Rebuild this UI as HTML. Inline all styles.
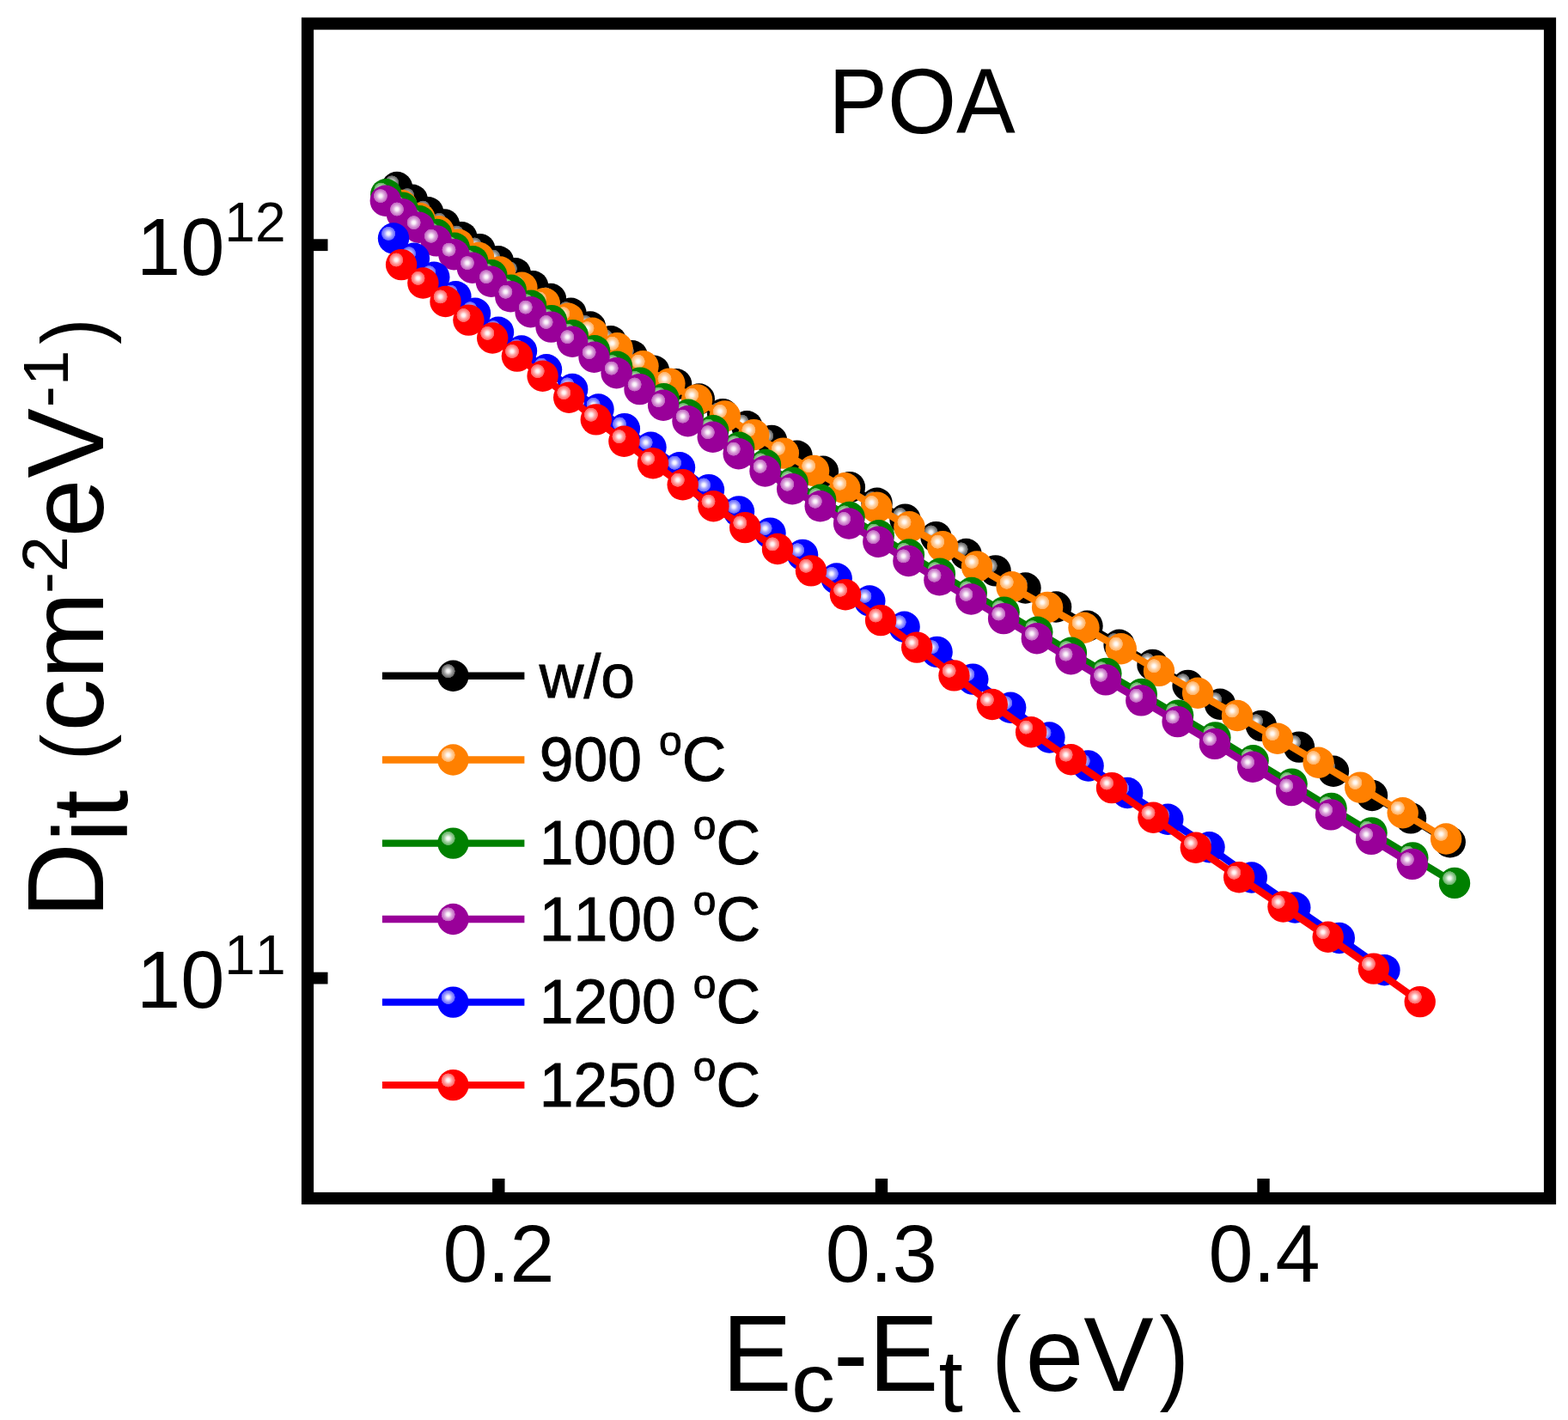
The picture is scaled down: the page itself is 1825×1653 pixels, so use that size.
<!DOCTYPE html>
<html><head><meta charset="utf-8"><title>Dit vs Ec-Et (POA)</title>
<style>
html,body{margin:0;padding:0;background:#fff;overflow:hidden;}
svg{display:block;}
text{font-family:"Liberation Sans", Arial, Helvetica, sans-serif;fill:#000;font-kerning:none;}
</style></head>
<body>
<svg width="1825" height="1653" viewBox="0 0 1825 1653">
<rect width="1825" height="1653" fill="#fff"/>
<defs>
<radialGradient id="h0"><stop offset="0" stop-color="#fff" stop-opacity="1"/><stop offset="0.25" stop-color="#fff" stop-opacity="0.92"/><stop offset="0.5" stop-color="#fff" stop-opacity="0.68"/><stop offset="0.85" stop-color="#fff" stop-opacity="0.45"/><stop offset="0.97" stop-color="#fff" stop-opacity="0.38"/><stop offset="1" stop-color="#fff" stop-opacity="0"/></radialGradient>
<radialGradient id="h1"><stop offset="0" stop-color="#fff" stop-opacity="1"/><stop offset="0.25" stop-color="#fff" stop-opacity="0.92"/><stop offset="0.5" stop-color="#fff" stop-opacity="0.68"/><stop offset="0.85" stop-color="#fff" stop-opacity="0.45"/><stop offset="0.97" stop-color="#fff" stop-opacity="0.38"/><stop offset="1" stop-color="#fff" stop-opacity="0"/></radialGradient>
<radialGradient id="h2"><stop offset="0" stop-color="#fff" stop-opacity="1"/><stop offset="0.25" stop-color="#fff" stop-opacity="0.92"/><stop offset="0.5" stop-color="#fff" stop-opacity="0.68"/><stop offset="0.85" stop-color="#fff" stop-opacity="0.45"/><stop offset="0.97" stop-color="#fff" stop-opacity="0.38"/><stop offset="1" stop-color="#fff" stop-opacity="0"/></radialGradient>
<radialGradient id="h3"><stop offset="0" stop-color="#fff" stop-opacity="1"/><stop offset="0.25" stop-color="#fff" stop-opacity="0.92"/><stop offset="0.5" stop-color="#fff" stop-opacity="0.68"/><stop offset="0.85" stop-color="#fff" stop-opacity="0.45"/><stop offset="0.97" stop-color="#fff" stop-opacity="0.38"/><stop offset="1" stop-color="#fff" stop-opacity="0"/></radialGradient>
<radialGradient id="h4"><stop offset="0" stop-color="#fff" stop-opacity="1"/><stop offset="0.25" stop-color="#fff" stop-opacity="0.92"/><stop offset="0.5" stop-color="#fff" stop-opacity="0.68"/><stop offset="0.85" stop-color="#fff" stop-opacity="0.45"/><stop offset="0.97" stop-color="#fff" stop-opacity="0.38"/><stop offset="1" stop-color="#fff" stop-opacity="0"/></radialGradient>
<radialGradient id="h5"><stop offset="0" stop-color="#fff" stop-opacity="1"/><stop offset="0.25" stop-color="#fff" stop-opacity="0.92"/><stop offset="0.5" stop-color="#fff" stop-opacity="0.68"/><stop offset="0.85" stop-color="#fff" stop-opacity="0.45"/><stop offset="0.97" stop-color="#fff" stop-opacity="0.38"/><stop offset="1" stop-color="#fff" stop-opacity="0"/></radialGradient>
</defs>
<path d="M462.0,218.0 L479.9,232.7 L498.2,247.2 L517.0,261.4 L537.4,276.2 L558.4,290.1 L580.0,304.2 L599.8,318.2 L620.2,333.2 L641.0,348.0 L664.5,364.7 L687.0,380.5 L711.0,397.2 L735.7,414.2 L761.1,431.7 L787.1,447.3 L813.8,464.5 L841.2,482.1 L869.3,496.2 L898.1,512.9 L927.6,530.7 L957.9,548.8 L988.9,567.1 L1020.6,585.7 L1053.5,604.6 L1089.5,625.1 L1124.5,645.0 L1158.6,664.4 L1193.5,684.5 L1229.1,706.5 L1265.5,728.7 L1302.6,750.7 L1341.5,773.9 L1382.6,797.9 L1420.0,819.7 L1468.0,844.9 L1512.0,869.6 L1552.0,897.8 L1597.0,926.0 L1642.0,952.4 L1687.7,980.3" fill="none" stroke="#000000" stroke-width="8.4" stroke-linejoin="round"/>
<circle cx="462.0" cy="218.0" r="18.2" fill="#000000"/><circle cx="456.1" cy="212.4" r="8.2" fill="url(#h0)"/>
<circle cx="479.9" cy="232.7" r="18.2" fill="#000000"/><circle cx="474.0" cy="227.1" r="8.2" fill="url(#h0)"/>
<circle cx="498.2" cy="247.2" r="18.2" fill="#000000"/><circle cx="492.3" cy="241.6" r="8.2" fill="url(#h0)"/>
<circle cx="517.0" cy="261.4" r="18.2" fill="#000000"/><circle cx="511.1" cy="255.8" r="8.2" fill="url(#h0)"/>
<circle cx="537.4" cy="276.2" r="18.2" fill="#000000"/><circle cx="531.5" cy="270.6" r="8.2" fill="url(#h0)"/>
<circle cx="558.4" cy="290.1" r="18.2" fill="#000000"/><circle cx="552.5" cy="284.5" r="8.2" fill="url(#h0)"/>
<circle cx="580.0" cy="304.2" r="18.2" fill="#000000"/><circle cx="574.1" cy="298.6" r="8.2" fill="url(#h0)"/>
<circle cx="599.8" cy="318.2" r="18.2" fill="#000000"/><circle cx="593.9" cy="312.6" r="8.2" fill="url(#h0)"/>
<circle cx="620.2" cy="333.2" r="18.2" fill="#000000"/><circle cx="614.3" cy="327.6" r="8.2" fill="url(#h0)"/>
<circle cx="641.0" cy="348.0" r="18.2" fill="#000000"/><circle cx="635.1" cy="342.4" r="8.2" fill="url(#h0)"/>
<circle cx="664.5" cy="364.7" r="18.2" fill="#000000"/><circle cx="658.6" cy="359.1" r="8.2" fill="url(#h0)"/>
<circle cx="687.0" cy="380.5" r="18.2" fill="#000000"/><circle cx="681.1" cy="374.9" r="8.2" fill="url(#h0)"/>
<circle cx="711.0" cy="397.2" r="18.2" fill="#000000"/><circle cx="705.1" cy="391.6" r="8.2" fill="url(#h0)"/>
<circle cx="735.7" cy="414.2" r="18.2" fill="#000000"/><circle cx="729.8" cy="408.6" r="8.2" fill="url(#h0)"/>
<circle cx="761.1" cy="431.7" r="18.2" fill="#000000"/><circle cx="755.2" cy="426.1" r="8.2" fill="url(#h0)"/>
<circle cx="787.1" cy="447.3" r="18.2" fill="#000000"/><circle cx="781.2" cy="441.7" r="8.2" fill="url(#h0)"/>
<circle cx="813.8" cy="464.5" r="18.2" fill="#000000"/><circle cx="807.9" cy="458.9" r="8.2" fill="url(#h0)"/>
<circle cx="841.2" cy="482.1" r="18.2" fill="#000000"/><circle cx="835.3" cy="476.5" r="8.2" fill="url(#h0)"/>
<circle cx="869.3" cy="496.2" r="18.2" fill="#000000"/><circle cx="863.4" cy="490.6" r="8.2" fill="url(#h0)"/>
<circle cx="898.1" cy="512.9" r="18.2" fill="#000000"/><circle cx="892.2" cy="507.3" r="8.2" fill="url(#h0)"/>
<circle cx="927.6" cy="530.7" r="18.2" fill="#000000"/><circle cx="921.7" cy="525.1" r="8.2" fill="url(#h0)"/>
<circle cx="957.9" cy="548.8" r="18.2" fill="#000000"/><circle cx="952.0" cy="543.2" r="8.2" fill="url(#h0)"/>
<circle cx="988.9" cy="567.1" r="18.2" fill="#000000"/><circle cx="983.0" cy="561.5" r="8.2" fill="url(#h0)"/>
<circle cx="1020.6" cy="585.7" r="18.2" fill="#000000"/><circle cx="1014.7" cy="580.1" r="8.2" fill="url(#h0)"/>
<circle cx="1053.5" cy="604.6" r="18.2" fill="#000000"/><circle cx="1047.6" cy="599.0" r="8.2" fill="url(#h0)"/>
<circle cx="1089.5" cy="625.1" r="18.2" fill="#000000"/><circle cx="1083.6" cy="619.5" r="8.2" fill="url(#h0)"/>
<circle cx="1124.5" cy="645.0" r="18.2" fill="#000000"/><circle cx="1118.6" cy="639.4" r="8.2" fill="url(#h0)"/>
<circle cx="1158.6" cy="664.4" r="18.2" fill="#000000"/><circle cx="1152.7" cy="658.8" r="8.2" fill="url(#h0)"/>
<circle cx="1193.5" cy="684.5" r="18.2" fill="#000000"/><circle cx="1187.6" cy="678.9" r="8.2" fill="url(#h0)"/>
<circle cx="1229.1" cy="706.5" r="18.2" fill="#000000"/><circle cx="1223.2" cy="700.9" r="8.2" fill="url(#h0)"/>
<circle cx="1265.5" cy="728.7" r="18.2" fill="#000000"/><circle cx="1259.6" cy="723.1" r="8.2" fill="url(#h0)"/>
<circle cx="1302.6" cy="750.7" r="18.2" fill="#000000"/><circle cx="1296.7" cy="745.1" r="8.2" fill="url(#h0)"/>
<circle cx="1341.5" cy="773.9" r="18.2" fill="#000000"/><circle cx="1335.6" cy="768.3" r="8.2" fill="url(#h0)"/>
<circle cx="1382.6" cy="797.9" r="18.2" fill="#000000"/><circle cx="1376.7" cy="792.3" r="8.2" fill="url(#h0)"/>
<circle cx="1420.0" cy="819.7" r="18.2" fill="#000000"/><circle cx="1414.1" cy="814.1" r="8.2" fill="url(#h0)"/>
<circle cx="1468.0" cy="844.9" r="18.2" fill="#000000"/><circle cx="1462.1" cy="839.3" r="8.2" fill="url(#h0)"/>
<circle cx="1512.0" cy="869.6" r="18.2" fill="#000000"/><circle cx="1506.1" cy="864.0" r="8.2" fill="url(#h0)"/>
<circle cx="1552.0" cy="897.8" r="18.2" fill="#000000"/><circle cx="1546.1" cy="892.2" r="8.2" fill="url(#h0)"/>
<circle cx="1597.0" cy="926.0" r="18.2" fill="#000000"/><circle cx="1591.1" cy="920.4" r="8.2" fill="url(#h0)"/>
<circle cx="1642.0" cy="952.4" r="18.2" fill="#000000"/><circle cx="1636.1" cy="946.8" r="8.2" fill="url(#h0)"/>
<circle cx="1687.7" cy="980.3" r="18.2" fill="#000000"/><circle cx="1681.8" cy="974.7" r="8.2" fill="url(#h0)"/>
<path d="M467.3,239.0 L488.4,254.0 L510.5,269.3 L533.4,284.7 L557.2,300.0 L581.8,316.5 L607.4,334.8 L633.8,353.1 L661.2,370.7 L689.4,387.7 L718.5,405.3 L748.5,426.3 L779.4,446.6 L811.1,465.4 L843.8,484.4 L877.3,506.1 L911.8,527.6 L947.1,547.9 L983.3,568.3 L1020.4,590.6 L1058.4,613.3 L1097.2,636.2 L1137.0,659.5 L1177.6,683.3 L1219.1,706.9 L1261.5,730.7 L1304.8,755.2 L1349.0,780.9 L1394.1,806.8 L1440.0,833.0 L1486.9,859.7 L1534.6,887.7 L1583.2,916.6 L1632.7,946.2 L1683.1,976.5" fill="none" stroke="#ff8000" stroke-width="8.4" stroke-linejoin="round"/>
<circle cx="467.3" cy="239.0" r="18.2" fill="#ff8000"/><circle cx="461.4" cy="233.4" r="8.2" fill="url(#h1)"/>
<circle cx="488.4" cy="254.0" r="18.2" fill="#ff8000"/><circle cx="482.5" cy="248.4" r="8.2" fill="url(#h1)"/>
<circle cx="510.5" cy="269.3" r="18.2" fill="#ff8000"/><circle cx="504.6" cy="263.7" r="8.2" fill="url(#h1)"/>
<circle cx="533.4" cy="284.7" r="18.2" fill="#ff8000"/><circle cx="527.5" cy="279.1" r="8.2" fill="url(#h1)"/>
<circle cx="557.2" cy="300.0" r="18.2" fill="#ff8000"/><circle cx="551.3" cy="294.4" r="8.2" fill="url(#h1)"/>
<circle cx="581.8" cy="316.5" r="18.2" fill="#ff8000"/><circle cx="575.9" cy="310.9" r="8.2" fill="url(#h1)"/>
<circle cx="607.4" cy="334.8" r="18.2" fill="#ff8000"/><circle cx="601.5" cy="329.2" r="8.2" fill="url(#h1)"/>
<circle cx="633.8" cy="353.1" r="18.2" fill="#ff8000"/><circle cx="627.9" cy="347.5" r="8.2" fill="url(#h1)"/>
<circle cx="661.2" cy="370.7" r="18.2" fill="#ff8000"/><circle cx="655.3" cy="365.1" r="8.2" fill="url(#h1)"/>
<circle cx="689.4" cy="387.7" r="18.2" fill="#ff8000"/><circle cx="683.5" cy="382.1" r="8.2" fill="url(#h1)"/>
<circle cx="718.5" cy="405.3" r="18.2" fill="#ff8000"/><circle cx="712.6" cy="399.7" r="8.2" fill="url(#h1)"/>
<circle cx="748.5" cy="426.3" r="18.2" fill="#ff8000"/><circle cx="742.6" cy="420.7" r="8.2" fill="url(#h1)"/>
<circle cx="779.4" cy="446.6" r="18.2" fill="#ff8000"/><circle cx="773.5" cy="441.0" r="8.2" fill="url(#h1)"/>
<circle cx="811.1" cy="465.4" r="18.2" fill="#ff8000"/><circle cx="805.2" cy="459.8" r="8.2" fill="url(#h1)"/>
<circle cx="843.8" cy="484.4" r="18.2" fill="#ff8000"/><circle cx="837.9" cy="478.8" r="8.2" fill="url(#h1)"/>
<circle cx="877.3" cy="506.1" r="18.2" fill="#ff8000"/><circle cx="871.4" cy="500.5" r="8.2" fill="url(#h1)"/>
<circle cx="911.8" cy="527.6" r="18.2" fill="#ff8000"/><circle cx="905.9" cy="522.0" r="8.2" fill="url(#h1)"/>
<circle cx="947.1" cy="547.9" r="18.2" fill="#ff8000"/><circle cx="941.2" cy="542.3" r="8.2" fill="url(#h1)"/>
<circle cx="983.3" cy="568.3" r="18.2" fill="#ff8000"/><circle cx="977.4" cy="562.7" r="8.2" fill="url(#h1)"/>
<circle cx="1020.4" cy="590.6" r="18.2" fill="#ff8000"/><circle cx="1014.5" cy="585.0" r="8.2" fill="url(#h1)"/>
<circle cx="1058.4" cy="613.3" r="18.2" fill="#ff8000"/><circle cx="1052.5" cy="607.7" r="8.2" fill="url(#h1)"/>
<circle cx="1097.2" cy="636.2" r="18.2" fill="#ff8000"/><circle cx="1091.3" cy="630.6" r="8.2" fill="url(#h1)"/>
<circle cx="1137.0" cy="659.5" r="18.2" fill="#ff8000"/><circle cx="1131.1" cy="653.9" r="8.2" fill="url(#h1)"/>
<circle cx="1177.6" cy="683.3" r="18.2" fill="#ff8000"/><circle cx="1171.7" cy="677.7" r="8.2" fill="url(#h1)"/>
<circle cx="1219.1" cy="706.9" r="18.2" fill="#ff8000"/><circle cx="1213.2" cy="701.3" r="8.2" fill="url(#h1)"/>
<circle cx="1261.5" cy="730.7" r="18.2" fill="#ff8000"/><circle cx="1255.6" cy="725.1" r="8.2" fill="url(#h1)"/>
<circle cx="1304.8" cy="755.2" r="18.2" fill="#ff8000"/><circle cx="1298.9" cy="749.6" r="8.2" fill="url(#h1)"/>
<circle cx="1349.0" cy="780.9" r="18.2" fill="#ff8000"/><circle cx="1343.1" cy="775.3" r="8.2" fill="url(#h1)"/>
<circle cx="1394.1" cy="806.8" r="18.2" fill="#ff8000"/><circle cx="1388.2" cy="801.2" r="8.2" fill="url(#h1)"/>
<circle cx="1440.0" cy="833.0" r="18.2" fill="#ff8000"/><circle cx="1434.1" cy="827.4" r="8.2" fill="url(#h1)"/>
<circle cx="1486.9" cy="859.7" r="18.2" fill="#ff8000"/><circle cx="1481.0" cy="854.1" r="8.2" fill="url(#h1)"/>
<circle cx="1534.6" cy="887.7" r="18.2" fill="#ff8000"/><circle cx="1528.7" cy="882.1" r="8.2" fill="url(#h1)"/>
<circle cx="1583.2" cy="916.6" r="18.2" fill="#ff8000"/><circle cx="1577.3" cy="911.0" r="8.2" fill="url(#h1)"/>
<circle cx="1632.7" cy="946.2" r="18.2" fill="#ff8000"/><circle cx="1626.8" cy="940.6" r="8.2" fill="url(#h1)"/>
<circle cx="1683.1" cy="976.5" r="18.2" fill="#ff8000"/><circle cx="1677.2" cy="970.9" r="8.2" fill="url(#h1)"/>
<path d="M449.3,226.2 L468.4,241.6 L488.0,257.2 L508.2,272.9 L528.9,288.7 L550.3,304.2 L572.3,320.3 L594.8,337.8 L618.1,355.7 L642.0,373.1 L666.7,390.3 L692.0,408.2 L718.1,426.7 L745.0,445.6 L772.6,464.2 L801.0,482.7 L830.2,501.3 L860.2,520.7 L891.0,541.0 L922.7,561.8 L955.2,581.8 L988.6,602.0 L1022.8,623.3 L1057.9,645.5 L1093.9,667.8 L1130.8,690.0 L1168.6,712.6 L1207.3,735.7 L1246.9,759.7 L1287.4,783.9 L1328.8,807.9 L1371.1,832.6 L1414.4,858.4 L1458.6,885.3 L1503.6,912.6 L1549.6,940.9 L1596.5,969.4 L1644.3,998.4 L1693.0,1027.9" fill="none" stroke="#008000" stroke-width="8.4" stroke-linejoin="round"/>
<circle cx="449.3" cy="226.2" r="18.2" fill="#008000"/><circle cx="443.4" cy="220.6" r="8.2" fill="url(#h2)"/>
<circle cx="468.4" cy="241.6" r="18.2" fill="#008000"/><circle cx="462.5" cy="236.0" r="8.2" fill="url(#h2)"/>
<circle cx="488.0" cy="257.2" r="18.2" fill="#008000"/><circle cx="482.1" cy="251.6" r="8.2" fill="url(#h2)"/>
<circle cx="508.2" cy="272.9" r="18.2" fill="#008000"/><circle cx="502.3" cy="267.3" r="8.2" fill="url(#h2)"/>
<circle cx="528.9" cy="288.7" r="18.2" fill="#008000"/><circle cx="523.0" cy="283.1" r="8.2" fill="url(#h2)"/>
<circle cx="550.3" cy="304.2" r="18.2" fill="#008000"/><circle cx="544.4" cy="298.6" r="8.2" fill="url(#h2)"/>
<circle cx="572.3" cy="320.3" r="18.2" fill="#008000"/><circle cx="566.4" cy="314.7" r="8.2" fill="url(#h2)"/>
<circle cx="594.8" cy="337.8" r="18.2" fill="#008000"/><circle cx="588.9" cy="332.2" r="8.2" fill="url(#h2)"/>
<circle cx="618.1" cy="355.7" r="18.2" fill="#008000"/><circle cx="612.2" cy="350.1" r="8.2" fill="url(#h2)"/>
<circle cx="642.0" cy="373.1" r="18.2" fill="#008000"/><circle cx="636.1" cy="367.5" r="8.2" fill="url(#h2)"/>
<circle cx="666.7" cy="390.3" r="18.2" fill="#008000"/><circle cx="660.8" cy="384.7" r="8.2" fill="url(#h2)"/>
<circle cx="692.0" cy="408.2" r="18.2" fill="#008000"/><circle cx="686.1" cy="402.6" r="8.2" fill="url(#h2)"/>
<circle cx="718.1" cy="426.7" r="18.2" fill="#008000"/><circle cx="712.2" cy="421.1" r="8.2" fill="url(#h2)"/>
<circle cx="745.0" cy="445.6" r="18.2" fill="#008000"/><circle cx="739.1" cy="440.0" r="8.2" fill="url(#h2)"/>
<circle cx="772.6" cy="464.2" r="18.2" fill="#008000"/><circle cx="766.7" cy="458.6" r="8.2" fill="url(#h2)"/>
<circle cx="801.0" cy="482.7" r="18.2" fill="#008000"/><circle cx="795.1" cy="477.1" r="8.2" fill="url(#h2)"/>
<circle cx="830.2" cy="501.3" r="18.2" fill="#008000"/><circle cx="824.3" cy="495.7" r="8.2" fill="url(#h2)"/>
<circle cx="860.2" cy="520.7" r="18.2" fill="#008000"/><circle cx="854.3" cy="515.1" r="8.2" fill="url(#h2)"/>
<circle cx="891.0" cy="541.0" r="18.2" fill="#008000"/><circle cx="885.1" cy="535.4" r="8.2" fill="url(#h2)"/>
<circle cx="922.7" cy="561.8" r="18.2" fill="#008000"/><circle cx="916.8" cy="556.2" r="8.2" fill="url(#h2)"/>
<circle cx="955.2" cy="581.8" r="18.2" fill="#008000"/><circle cx="949.3" cy="576.2" r="8.2" fill="url(#h2)"/>
<circle cx="988.6" cy="602.0" r="18.2" fill="#008000"/><circle cx="982.7" cy="596.4" r="8.2" fill="url(#h2)"/>
<circle cx="1022.8" cy="623.3" r="18.2" fill="#008000"/><circle cx="1016.9" cy="617.7" r="8.2" fill="url(#h2)"/>
<circle cx="1057.9" cy="645.5" r="18.2" fill="#008000"/><circle cx="1052.0" cy="639.9" r="8.2" fill="url(#h2)"/>
<circle cx="1093.9" cy="667.8" r="18.2" fill="#008000"/><circle cx="1088.0" cy="662.2" r="8.2" fill="url(#h2)"/>
<circle cx="1130.8" cy="690.0" r="18.2" fill="#008000"/><circle cx="1124.9" cy="684.4" r="8.2" fill="url(#h2)"/>
<circle cx="1168.6" cy="712.6" r="18.2" fill="#008000"/><circle cx="1162.7" cy="707.0" r="8.2" fill="url(#h2)"/>
<circle cx="1207.3" cy="735.7" r="18.2" fill="#008000"/><circle cx="1201.4" cy="730.1" r="8.2" fill="url(#h2)"/>
<circle cx="1246.9" cy="759.7" r="18.2" fill="#008000"/><circle cx="1241.0" cy="754.1" r="8.2" fill="url(#h2)"/>
<circle cx="1287.4" cy="783.9" r="18.2" fill="#008000"/><circle cx="1281.5" cy="778.3" r="8.2" fill="url(#h2)"/>
<circle cx="1328.8" cy="807.9" r="18.2" fill="#008000"/><circle cx="1322.9" cy="802.3" r="8.2" fill="url(#h2)"/>
<circle cx="1371.1" cy="832.6" r="18.2" fill="#008000"/><circle cx="1365.2" cy="827.0" r="8.2" fill="url(#h2)"/>
<circle cx="1414.4" cy="858.4" r="18.2" fill="#008000"/><circle cx="1408.5" cy="852.8" r="8.2" fill="url(#h2)"/>
<circle cx="1458.6" cy="885.3" r="18.2" fill="#008000"/><circle cx="1452.7" cy="879.7" r="8.2" fill="url(#h2)"/>
<circle cx="1503.6" cy="912.6" r="18.2" fill="#008000"/><circle cx="1497.7" cy="907.0" r="8.2" fill="url(#h2)"/>
<circle cx="1549.6" cy="940.9" r="18.2" fill="#008000"/><circle cx="1543.7" cy="935.3" r="8.2" fill="url(#h2)"/>
<circle cx="1596.5" cy="969.4" r="18.2" fill="#008000"/><circle cx="1590.6" cy="963.8" r="8.2" fill="url(#h2)"/>
<circle cx="1644.3" cy="998.4" r="18.2" fill="#008000"/><circle cx="1638.4" cy="992.8" r="8.2" fill="url(#h2)"/>
<circle cx="1693.0" cy="1027.9" r="18.2" fill="#008000"/><circle cx="1687.1" cy="1022.3" r="8.2" fill="url(#h2)"/>
<path d="M448.8,233.7 L467.9,249.1 L487.5,264.7 L507.7,280.4 L528.4,296.2 L549.8,311.7 L571.8,327.8 L594.3,345.3 L617.6,363.2 L641.5,380.6 L666.2,397.8 L691.5,415.7 L717.6,434.2 L744.5,453.1 L772.1,471.7 L800.5,490.2 L829.7,508.8 L859.7,528.2 L890.5,548.5 L922.2,569.3 L954.7,589.3 L988.1,609.5 L1022.3,630.8 L1057.4,653.0 L1093.4,675.3 L1130.3,697.5 L1168.1,720.1 L1206.8,743.2 L1246.4,767.2 L1286.9,791.4 L1328.3,815.4 L1370.6,840.1 L1413.9,865.9 L1458.1,892.8 L1503.1,920.1 L1549.1,948.4 L1596.0,976.9 L1643.8,1005.9" fill="none" stroke="#990099" stroke-width="8.4" stroke-linejoin="round"/>
<circle cx="448.8" cy="233.7" r="18.2" fill="#990099"/><circle cx="442.9" cy="228.1" r="8.2" fill="url(#h3)"/>
<circle cx="467.9" cy="249.1" r="18.2" fill="#990099"/><circle cx="462.0" cy="243.5" r="8.2" fill="url(#h3)"/>
<circle cx="487.5" cy="264.7" r="18.2" fill="#990099"/><circle cx="481.6" cy="259.1" r="8.2" fill="url(#h3)"/>
<circle cx="507.7" cy="280.4" r="18.2" fill="#990099"/><circle cx="501.8" cy="274.8" r="8.2" fill="url(#h3)"/>
<circle cx="528.4" cy="296.2" r="18.2" fill="#990099"/><circle cx="522.5" cy="290.6" r="8.2" fill="url(#h3)"/>
<circle cx="549.8" cy="311.7" r="18.2" fill="#990099"/><circle cx="543.9" cy="306.1" r="8.2" fill="url(#h3)"/>
<circle cx="571.8" cy="327.8" r="18.2" fill="#990099"/><circle cx="565.9" cy="322.2" r="8.2" fill="url(#h3)"/>
<circle cx="594.3" cy="345.3" r="18.2" fill="#990099"/><circle cx="588.4" cy="339.7" r="8.2" fill="url(#h3)"/>
<circle cx="617.6" cy="363.2" r="18.2" fill="#990099"/><circle cx="611.7" cy="357.6" r="8.2" fill="url(#h3)"/>
<circle cx="641.5" cy="380.6" r="18.2" fill="#990099"/><circle cx="635.6" cy="375.0" r="8.2" fill="url(#h3)"/>
<circle cx="666.2" cy="397.8" r="18.2" fill="#990099"/><circle cx="660.3" cy="392.2" r="8.2" fill="url(#h3)"/>
<circle cx="691.5" cy="415.7" r="18.2" fill="#990099"/><circle cx="685.6" cy="410.1" r="8.2" fill="url(#h3)"/>
<circle cx="717.6" cy="434.2" r="18.2" fill="#990099"/><circle cx="711.7" cy="428.6" r="8.2" fill="url(#h3)"/>
<circle cx="744.5" cy="453.1" r="18.2" fill="#990099"/><circle cx="738.6" cy="447.5" r="8.2" fill="url(#h3)"/>
<circle cx="772.1" cy="471.7" r="18.2" fill="#990099"/><circle cx="766.2" cy="466.1" r="8.2" fill="url(#h3)"/>
<circle cx="800.5" cy="490.2" r="18.2" fill="#990099"/><circle cx="794.6" cy="484.6" r="8.2" fill="url(#h3)"/>
<circle cx="829.7" cy="508.8" r="18.2" fill="#990099"/><circle cx="823.8" cy="503.2" r="8.2" fill="url(#h3)"/>
<circle cx="859.7" cy="528.2" r="18.2" fill="#990099"/><circle cx="853.8" cy="522.6" r="8.2" fill="url(#h3)"/>
<circle cx="890.5" cy="548.5" r="18.2" fill="#990099"/><circle cx="884.6" cy="542.9" r="8.2" fill="url(#h3)"/>
<circle cx="922.2" cy="569.3" r="18.2" fill="#990099"/><circle cx="916.3" cy="563.7" r="8.2" fill="url(#h3)"/>
<circle cx="954.7" cy="589.3" r="18.2" fill="#990099"/><circle cx="948.8" cy="583.7" r="8.2" fill="url(#h3)"/>
<circle cx="988.1" cy="609.5" r="18.2" fill="#990099"/><circle cx="982.2" cy="603.9" r="8.2" fill="url(#h3)"/>
<circle cx="1022.3" cy="630.8" r="18.2" fill="#990099"/><circle cx="1016.4" cy="625.2" r="8.2" fill="url(#h3)"/>
<circle cx="1057.4" cy="653.0" r="18.2" fill="#990099"/><circle cx="1051.5" cy="647.4" r="8.2" fill="url(#h3)"/>
<circle cx="1093.4" cy="675.3" r="18.2" fill="#990099"/><circle cx="1087.5" cy="669.7" r="8.2" fill="url(#h3)"/>
<circle cx="1130.3" cy="697.5" r="18.2" fill="#990099"/><circle cx="1124.4" cy="691.9" r="8.2" fill="url(#h3)"/>
<circle cx="1168.1" cy="720.1" r="18.2" fill="#990099"/><circle cx="1162.2" cy="714.5" r="8.2" fill="url(#h3)"/>
<circle cx="1206.8" cy="743.2" r="18.2" fill="#990099"/><circle cx="1200.9" cy="737.6" r="8.2" fill="url(#h3)"/>
<circle cx="1246.4" cy="767.2" r="18.2" fill="#990099"/><circle cx="1240.5" cy="761.6" r="8.2" fill="url(#h3)"/>
<circle cx="1286.9" cy="791.4" r="18.2" fill="#990099"/><circle cx="1281.0" cy="785.8" r="8.2" fill="url(#h3)"/>
<circle cx="1328.3" cy="815.4" r="18.2" fill="#990099"/><circle cx="1322.4" cy="809.8" r="8.2" fill="url(#h3)"/>
<circle cx="1370.6" cy="840.1" r="18.2" fill="#990099"/><circle cx="1364.7" cy="834.5" r="8.2" fill="url(#h3)"/>
<circle cx="1413.9" cy="865.9" r="18.2" fill="#990099"/><circle cx="1408.0" cy="860.3" r="8.2" fill="url(#h3)"/>
<circle cx="1458.1" cy="892.8" r="18.2" fill="#990099"/><circle cx="1452.2" cy="887.2" r="8.2" fill="url(#h3)"/>
<circle cx="1503.1" cy="920.1" r="18.2" fill="#990099"/><circle cx="1497.2" cy="914.5" r="8.2" fill="url(#h3)"/>
<circle cx="1549.1" cy="948.4" r="18.2" fill="#990099"/><circle cx="1543.2" cy="942.8" r="8.2" fill="url(#h3)"/>
<circle cx="1596.0" cy="976.9" r="18.2" fill="#990099"/><circle cx="1590.1" cy="971.3" r="8.2" fill="url(#h3)"/>
<circle cx="1643.8" cy="1005.9" r="18.2" fill="#990099"/><circle cx="1637.9" cy="1000.3" r="8.2" fill="url(#h3)"/>
<path d="M458.0,277.5 L481.9,300.8 L505.3,322.7 L530.4,345.2 L553.0,364.8 L580.0,386.7 L607.0,408.5 L636.0,430.3 L666.2,453.0 L696.5,476.5 L726.9,499.1 L757.5,520.7 L791.0,544.3 L825.0,570.1 L860.0,595.4 L896.5,620.6 L934.1,645.9 L973.7,673.5 L1012.3,699.5 L1052.6,729.8 L1090.6,758.9 L1132.3,790.6 L1176.2,823.8 L1221.4,858.5 L1266.6,891.5 L1312.2,923.0 L1359.3,953.8 L1407.5,986.3 L1456.8,1021.5 L1507.3,1056.5 L1558.8,1092.0 L1611.4,1129.2" fill="none" stroke="#0000ff" stroke-width="8.4" stroke-linejoin="round"/>
<circle cx="458.0" cy="277.5" r="18.2" fill="#0000ff"/><circle cx="452.1" cy="271.9" r="8.2" fill="url(#h4)"/>
<circle cx="481.9" cy="300.8" r="18.2" fill="#0000ff"/><circle cx="476.0" cy="295.2" r="8.2" fill="url(#h4)"/>
<circle cx="505.3" cy="322.7" r="18.2" fill="#0000ff"/><circle cx="499.4" cy="317.1" r="8.2" fill="url(#h4)"/>
<circle cx="530.4" cy="345.2" r="18.2" fill="#0000ff"/><circle cx="524.5" cy="339.6" r="8.2" fill="url(#h4)"/>
<circle cx="553.0" cy="364.8" r="18.2" fill="#0000ff"/><circle cx="547.1" cy="359.2" r="8.2" fill="url(#h4)"/>
<circle cx="580.0" cy="386.7" r="18.2" fill="#0000ff"/><circle cx="574.1" cy="381.1" r="8.2" fill="url(#h4)"/>
<circle cx="607.0" cy="408.5" r="18.2" fill="#0000ff"/><circle cx="601.1" cy="402.9" r="8.2" fill="url(#h4)"/>
<circle cx="636.0" cy="430.3" r="18.2" fill="#0000ff"/><circle cx="630.1" cy="424.7" r="8.2" fill="url(#h4)"/>
<circle cx="666.2" cy="453.0" r="18.2" fill="#0000ff"/><circle cx="660.3" cy="447.4" r="8.2" fill="url(#h4)"/>
<circle cx="696.5" cy="476.5" r="18.2" fill="#0000ff"/><circle cx="690.6" cy="470.9" r="8.2" fill="url(#h4)"/>
<circle cx="726.9" cy="499.1" r="18.2" fill="#0000ff"/><circle cx="721.0" cy="493.5" r="8.2" fill="url(#h4)"/>
<circle cx="757.5" cy="520.7" r="18.2" fill="#0000ff"/><circle cx="751.6" cy="515.1" r="8.2" fill="url(#h4)"/>
<circle cx="791.0" cy="544.3" r="18.2" fill="#0000ff"/><circle cx="785.1" cy="538.7" r="8.2" fill="url(#h4)"/>
<circle cx="825.0" cy="570.1" r="18.2" fill="#0000ff"/><circle cx="819.1" cy="564.5" r="8.2" fill="url(#h4)"/>
<circle cx="860.0" cy="595.4" r="18.2" fill="#0000ff"/><circle cx="854.1" cy="589.8" r="8.2" fill="url(#h4)"/>
<circle cx="896.5" cy="620.6" r="18.2" fill="#0000ff"/><circle cx="890.6" cy="615.0" r="8.2" fill="url(#h4)"/>
<circle cx="934.1" cy="645.9" r="18.2" fill="#0000ff"/><circle cx="928.2" cy="640.3" r="8.2" fill="url(#h4)"/>
<circle cx="973.7" cy="673.5" r="18.2" fill="#0000ff"/><circle cx="967.8" cy="667.9" r="8.2" fill="url(#h4)"/>
<circle cx="1012.3" cy="699.5" r="18.2" fill="#0000ff"/><circle cx="1006.4" cy="693.9" r="8.2" fill="url(#h4)"/>
<circle cx="1052.6" cy="729.8" r="18.2" fill="#0000ff"/><circle cx="1046.7" cy="724.2" r="8.2" fill="url(#h4)"/>
<circle cx="1090.6" cy="758.9" r="18.2" fill="#0000ff"/><circle cx="1084.7" cy="753.3" r="8.2" fill="url(#h4)"/>
<circle cx="1132.3" cy="790.6" r="18.2" fill="#0000ff"/><circle cx="1126.4" cy="785.0" r="8.2" fill="url(#h4)"/>
<circle cx="1176.2" cy="823.8" r="18.2" fill="#0000ff"/><circle cx="1170.3" cy="818.2" r="8.2" fill="url(#h4)"/>
<circle cx="1221.4" cy="858.5" r="18.2" fill="#0000ff"/><circle cx="1215.5" cy="852.9" r="8.2" fill="url(#h4)"/>
<circle cx="1266.6" cy="891.5" r="18.2" fill="#0000ff"/><circle cx="1260.7" cy="885.9" r="8.2" fill="url(#h4)"/>
<circle cx="1312.2" cy="923.0" r="18.2" fill="#0000ff"/><circle cx="1306.3" cy="917.4" r="8.2" fill="url(#h4)"/>
<circle cx="1359.3" cy="953.8" r="18.2" fill="#0000ff"/><circle cx="1353.4" cy="948.2" r="8.2" fill="url(#h4)"/>
<circle cx="1407.5" cy="986.3" r="18.2" fill="#0000ff"/><circle cx="1401.6" cy="980.7" r="8.2" fill="url(#h4)"/>
<circle cx="1456.8" cy="1021.5" r="18.2" fill="#0000ff"/><circle cx="1450.9" cy="1015.9" r="8.2" fill="url(#h4)"/>
<circle cx="1507.3" cy="1056.5" r="18.2" fill="#0000ff"/><circle cx="1501.4" cy="1050.9" r="8.2" fill="url(#h4)"/>
<circle cx="1558.8" cy="1092.0" r="18.2" fill="#0000ff"/><circle cx="1552.9" cy="1086.4" r="8.2" fill="url(#h4)"/>
<circle cx="1611.4" cy="1129.2" r="18.2" fill="#0000ff"/><circle cx="1605.5" cy="1123.6" r="8.2" fill="url(#h4)"/>
<path d="M467.1,308.1 L492.4,329.5 L518.5,351.0 L545.4,372.6 L573.2,393.5 L601.9,414.6 L631.6,437.7 L662.2,462.7 L693.8,488.4 L726.4,513.8 L760.0,539.3 L794.7,564.3 L830.4,589.2 L867.2,614.1 L905.0,639.0 L944.0,664.4 L984.0,692.3 L1025.1,722.1 L1067.2,753.6 L1110.5,786.4 L1154.8,820.0 L1200.1,852.2 L1246.5,884.2 L1294.0,917.1 L1342.4,951.7 L1391.8,986.8 L1442.2,1021.3 L1493.5,1055.5 L1545.7,1090.7 L1598.8,1127.6 L1652.7,1166.1" fill="none" stroke="#ff0000" stroke-width="8.4" stroke-linejoin="round"/>
<circle cx="467.1" cy="308.1" r="18.2" fill="#ff0000"/><circle cx="461.2" cy="302.5" r="8.2" fill="url(#h5)"/>
<circle cx="492.4" cy="329.5" r="18.2" fill="#ff0000"/><circle cx="486.5" cy="323.9" r="8.2" fill="url(#h5)"/>
<circle cx="518.5" cy="351.0" r="18.2" fill="#ff0000"/><circle cx="512.6" cy="345.4" r="8.2" fill="url(#h5)"/>
<circle cx="545.4" cy="372.6" r="18.2" fill="#ff0000"/><circle cx="539.5" cy="367.0" r="8.2" fill="url(#h5)"/>
<circle cx="573.2" cy="393.5" r="18.2" fill="#ff0000"/><circle cx="567.3" cy="387.9" r="8.2" fill="url(#h5)"/>
<circle cx="601.9" cy="414.6" r="18.2" fill="#ff0000"/><circle cx="596.0" cy="409.0" r="8.2" fill="url(#h5)"/>
<circle cx="631.6" cy="437.7" r="18.2" fill="#ff0000"/><circle cx="625.7" cy="432.1" r="8.2" fill="url(#h5)"/>
<circle cx="662.2" cy="462.7" r="18.2" fill="#ff0000"/><circle cx="656.3" cy="457.1" r="8.2" fill="url(#h5)"/>
<circle cx="693.8" cy="488.4" r="18.2" fill="#ff0000"/><circle cx="687.9" cy="482.8" r="8.2" fill="url(#h5)"/>
<circle cx="726.4" cy="513.8" r="18.2" fill="#ff0000"/><circle cx="720.5" cy="508.2" r="8.2" fill="url(#h5)"/>
<circle cx="760.0" cy="539.3" r="18.2" fill="#ff0000"/><circle cx="754.1" cy="533.7" r="8.2" fill="url(#h5)"/>
<circle cx="794.7" cy="564.3" r="18.2" fill="#ff0000"/><circle cx="788.8" cy="558.7" r="8.2" fill="url(#h5)"/>
<circle cx="830.4" cy="589.2" r="18.2" fill="#ff0000"/><circle cx="824.5" cy="583.6" r="8.2" fill="url(#h5)"/>
<circle cx="867.2" cy="614.1" r="18.2" fill="#ff0000"/><circle cx="861.3" cy="608.5" r="8.2" fill="url(#h5)"/>
<circle cx="905.0" cy="639.0" r="18.2" fill="#ff0000"/><circle cx="899.1" cy="633.4" r="8.2" fill="url(#h5)"/>
<circle cx="944.0" cy="664.4" r="18.2" fill="#ff0000"/><circle cx="938.1" cy="658.8" r="8.2" fill="url(#h5)"/>
<circle cx="984.0" cy="692.3" r="18.2" fill="#ff0000"/><circle cx="978.1" cy="686.7" r="8.2" fill="url(#h5)"/>
<circle cx="1025.1" cy="722.1" r="18.2" fill="#ff0000"/><circle cx="1019.2" cy="716.5" r="8.2" fill="url(#h5)"/>
<circle cx="1067.2" cy="753.6" r="18.2" fill="#ff0000"/><circle cx="1061.3" cy="748.0" r="8.2" fill="url(#h5)"/>
<circle cx="1110.5" cy="786.4" r="18.2" fill="#ff0000"/><circle cx="1104.6" cy="780.8" r="8.2" fill="url(#h5)"/>
<circle cx="1154.8" cy="820.0" r="18.2" fill="#ff0000"/><circle cx="1148.9" cy="814.4" r="8.2" fill="url(#h5)"/>
<circle cx="1200.1" cy="852.2" r="18.2" fill="#ff0000"/><circle cx="1194.2" cy="846.6" r="8.2" fill="url(#h5)"/>
<circle cx="1246.5" cy="884.2" r="18.2" fill="#ff0000"/><circle cx="1240.6" cy="878.6" r="8.2" fill="url(#h5)"/>
<circle cx="1294.0" cy="917.1" r="18.2" fill="#ff0000"/><circle cx="1288.1" cy="911.5" r="8.2" fill="url(#h5)"/>
<circle cx="1342.4" cy="951.7" r="18.2" fill="#ff0000"/><circle cx="1336.5" cy="946.1" r="8.2" fill="url(#h5)"/>
<circle cx="1391.8" cy="986.8" r="18.2" fill="#ff0000"/><circle cx="1385.9" cy="981.2" r="8.2" fill="url(#h5)"/>
<circle cx="1442.2" cy="1021.3" r="18.2" fill="#ff0000"/><circle cx="1436.3" cy="1015.7" r="8.2" fill="url(#h5)"/>
<circle cx="1493.5" cy="1055.5" r="18.2" fill="#ff0000"/><circle cx="1487.6" cy="1049.9" r="8.2" fill="url(#h5)"/>
<circle cx="1545.7" cy="1090.7" r="18.2" fill="#ff0000"/><circle cx="1539.8" cy="1085.1" r="8.2" fill="url(#h5)"/>
<circle cx="1598.8" cy="1127.6" r="18.2" fill="#ff0000"/><circle cx="1592.9" cy="1122.0" r="8.2" fill="url(#h5)"/>
<circle cx="1652.7" cy="1166.1" r="18.2" fill="#ff0000"/><circle cx="1646.8" cy="1160.5" r="8.2" fill="url(#h5)"/>
<rect x="358" y="27.5" width="1446" height="1367.5" fill="none" stroke="#000" stroke-width="14.2"/>
<rect x="360" y="278.3" width="21.5" height="13.8" fill="#000"/>
<rect x="360" y="1131.7" width="21.5" height="13.8" fill="#000"/>
<rect x="573.1" y="1372" width="14.4" height="20" fill="#000"/>
<rect x="1018.8" y="1372" width="14.4" height="20" fill="#000"/>
<rect x="1463.3" y="1372" width="14.4" height="20" fill="#000"/>
<text transform="translate(964.2 154.7) scale(1.0 1.04)" font-size="103">POA</text>
<text transform="translate(159.1 320.0) scale(1.0 1.035)" font-size="92">10</text>
<text x="261.3" y="280.6" font-size="64">12</text>
<text transform="translate(159.1 1173.2) scale(1.0 1.035)" font-size="92">10</text>
<text x="261.3" y="1133.8" font-size="64">11</text>
<text transform="translate(515.5 1492.0) scale(1.0 1.018)" font-size="93.5">0.2</text>
<text transform="translate(960.8 1492.0) scale(1.0 1.018)" font-size="93.5">0.3</text>
<text transform="translate(1406.5 1492.0) scale(1.0 1.018)" font-size="93.5">0.4</text>
<text transform="translate(840.3 1618.7) scale(1.0 1.04)" font-size="122">E</text>
<text transform="translate(921.0 1642.7) scale(1.0 0.95)" font-size="102">c</text>
<text transform="translate(969.9 1618.7) scale(1.0 1.04)" font-size="122">-</text>
<text transform="translate(1011.0 1618.7) scale(1.0 1.04)" font-size="122">E</text>
<text x="1092.5" y="1642.9" font-size="102">t</text>
<text transform="translate(1154.6 1618.7) scale(0.84 1.0)" font-size="122">(</text>
<text x="1193.5" y="1618.7" font-size="122">eV</text>
<text transform="translate(1349.4 1618.7) scale(0.84 1.0)" font-size="122">)</text>
<g transform="translate(120.3 1068.6) rotate(-90)">
<text transform="translate(0.0 0.0) scale(1.0 1.04)" font-size="121">D</text>
<text x="88.0" y="27.7" font-size="122">i</text>
<text transform="translate(115.1 27.7) scale(1.0 1.04)" font-size="122">t</text>
<text transform="translate(183.7 -0.3) scale(0.89 1.0)" font-size="102">(</text>
<text x="217.0" y="0.0" font-size="122">cm</text>
<text x="377.6" y="-42.6" font-size="75">-2</text>
<text x="443.2" y="0.0" font-size="122">e</text>
<text transform="translate(512.1 0.0) scale(1.0 1.04)" font-size="122">V</text>
<text x="594.3" y="-41.5" font-size="75">-1</text>
<text transform="translate(667.8 -0.3) scale(0.89 1.0)" font-size="102">)</text>
</g>
<line x1="444.9" y1="786.8" x2="610.4" y2="786.8" stroke="#000000" stroke-width="8.4"/>
<circle cx="527.4" cy="786.8" r="18.2" fill="#000000"/><circle cx="521.6" cy="781.2" r="8.2" fill="url(#h0)"/>
<text x="627.8" y="811.5" font-size="71.5" stroke="#000" stroke-width="0.9">w/o</text>
<line x1="444.9" y1="884.5" x2="610.4" y2="884.5" stroke="#ff8000" stroke-width="8.4"/>
<circle cx="527.4" cy="884.5" r="18.2" fill="#ff8000"/><circle cx="521.6" cy="878.9" r="8.2" fill="url(#h1)"/>
<text transform="translate(627.8 909.2) scale(1 1.02)" font-size="71.5" stroke="#000" stroke-width="0.9">900 <tspan dy="-29.2" font-size="48">o</tspan><tspan dy="29.2">C</tspan></text>
<line x1="444.9" y1="981.6" x2="610.4" y2="981.6" stroke="#008000" stroke-width="8.4"/>
<circle cx="527.4" cy="981.6" r="18.2" fill="#008000"/><circle cx="521.6" cy="976.0" r="8.2" fill="url(#h2)"/>
<text transform="translate(627.8 1006.3) scale(1 1.02)" font-size="71.5" stroke="#000" stroke-width="0.9">1000 <tspan dy="-29.2" font-size="48">o</tspan><tspan dy="29.2">C</tspan></text>
<line x1="444.9" y1="1070.0" x2="610.4" y2="1070.0" stroke="#990099" stroke-width="8.4"/>
<circle cx="527.4" cy="1070.0" r="18.2" fill="#990099"/><circle cx="521.6" cy="1064.4" r="8.2" fill="url(#h3)"/>
<text transform="translate(627.8 1094.7) scale(1 1.02)" font-size="71.5" stroke="#000" stroke-width="0.9">1100 <tspan dy="-29.2" font-size="48">o</tspan><tspan dy="29.2">C</tspan></text>
<line x1="444.9" y1="1166.6" x2="610.4" y2="1166.6" stroke="#0000ff" stroke-width="8.4"/>
<circle cx="527.4" cy="1166.6" r="18.2" fill="#0000ff"/><circle cx="521.6" cy="1161.0" r="8.2" fill="url(#h4)"/>
<text transform="translate(627.8 1191.3) scale(1 1.02)" font-size="71.5" stroke="#000" stroke-width="0.9">1200 <tspan dy="-29.2" font-size="48">o</tspan><tspan dy="29.2">C</tspan></text>
<line x1="444.9" y1="1263.1" x2="610.4" y2="1263.1" stroke="#ff0000" stroke-width="8.4"/>
<circle cx="527.4" cy="1263.1" r="18.2" fill="#ff0000"/><circle cx="521.6" cy="1257.5" r="8.2" fill="url(#h5)"/>
<text transform="translate(627.8 1287.8) scale(1 1.02)" font-size="71.5" stroke="#000" stroke-width="0.9">1250 <tspan dy="-29.2" font-size="48">o</tspan><tspan dy="29.2">C</tspan></text>
</svg>
</body></html>
